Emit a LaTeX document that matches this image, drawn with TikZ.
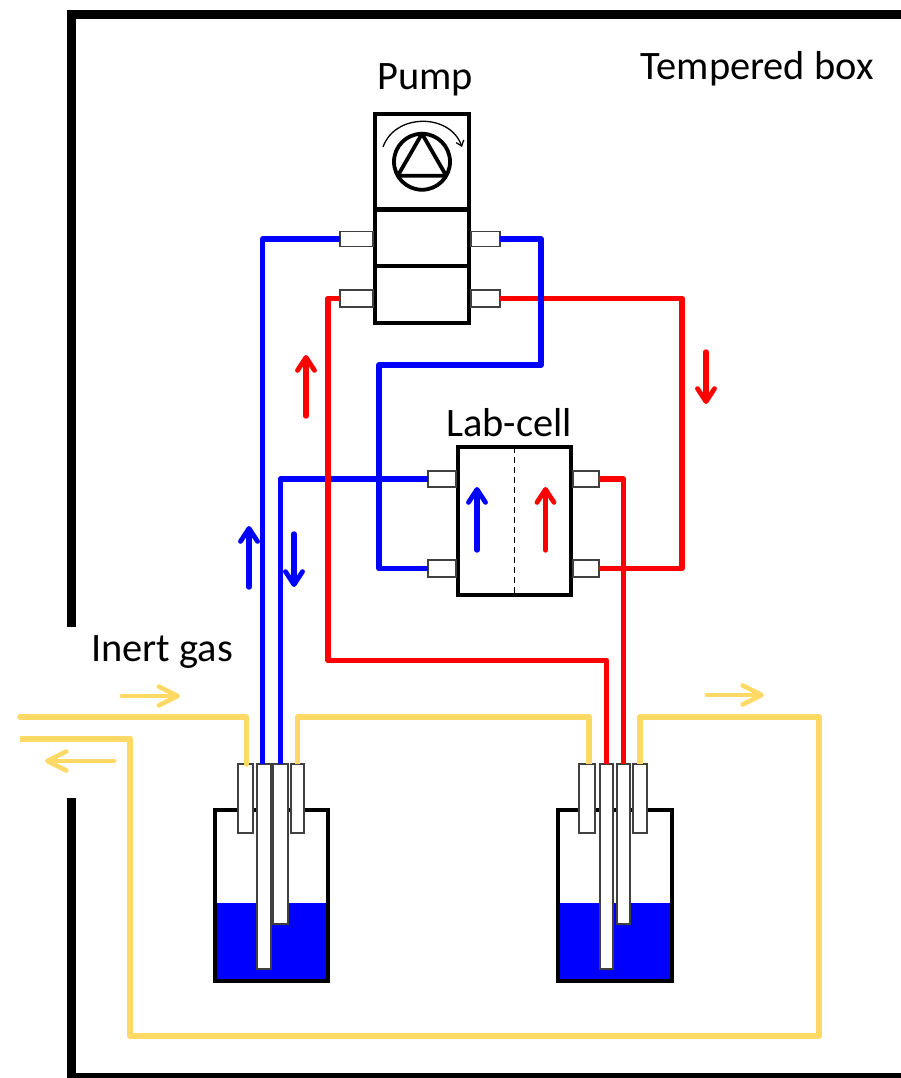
\documentclass[tikz,border=0pt]{standalone}
\usepackage{fontspec}
\setmainfont{Carlito}
\usetikzlibrary{arrows.meta,positioning}
\definecolor{gas}{HTML}{FFD966}
\tikzset{
box/.style={draw, line width=4.3pt, inner sep=0pt, outer sep=0pt}, % pump and lab-cell parts
port/.style={draw=black!75, fill=white, line width=1.3pt, inner sep=0pt, outer sep=0pt},
tube/.style={port, anchor=north, minimum height=69pt},
liquid/.style={fill=blue, inner sep=0pt, outer sep=0pt, minimum width=112pt, minimum height=78pt},
pipe/.style={line width=5.6pt, line join=round},
wall/.style={line width=9pt, line join=miter},
flow/.style={line width=5.4pt, line cap=round, -{Straight Barb[round,length=13pt,width=17pt,line width=4.8pt]}},
gasflow/.style={gas, line width=4.6pt, line cap=round, -{Straight Barb[round,length=19pt,width=19pt,line width=4.6pt]}},
title/.style={font=\fontsize{40.4}{46}\selectfont, inner sep=0pt},
}

\begin{document}
\begin{tikzpicture}[x=1pt,y=-1pt]
   \useasboundingbox (0,0) rectangle (901,1078);
   % box walls
   \coordinate (wall_a) at (71,627);
   \coordinate (wall_b) at (901,14.5);
   \coordinate (wall_c) at (71,798);
   \coordinate (wall_d) at (901,1077);
   \draw[wall] (wall_a) |- (wall_b);
   \draw[wall] (wall_c) |- (wall_d);
   % pump
   \node[box, minimum width=94pt, minimum height=95.5pt] (pump_0) at (422,161.75) {};
   \node[box, minimum width=94pt, minimum height=56.5pt] (pump_1) [below=0pt of pump_0] {};
   \node[box, minimum width=94pt, minimum height=56.7pt] (pump_2) [below=0pt of pump_1] {};
   \node[draw, circle, line width=3.8pt, minimum size=56pt, inner sep=0pt, outer sep=0pt] (pump_icon) at (pump_0) {};
   \draw[line width=3.8pt, line join=round] (pump_icon.90) -- (pump_icon.210) -- (pump_icon.330) -- cycle;
   \coordinate (turn_a) at (383,147);
   \coordinate (turn_b) at (462,147);
   \draw[line width=1.3pt, -{Straight Barb[length=5pt,width=8pt]}] (turn_a) .. controls (395,113) and (450,113) .. (turn_b);
   \node[port, minimum width=33pt, minimum height=15pt] (pump_1_w) [left=2pt of pump_1, yshift=-1.5pt] {};
   \node[port, minimum width=29pt, minimum height=15pt] (pump_1_e) [right=2pt of pump_1, yshift=-1.5pt] {};
   \node[port, minimum width=33pt, minimum height=17pt] (pump_2_w) [left=2pt of pump_2, yshift=-4pt] {};
   \node[port, minimum width=29pt, minimum height=17pt] (pump_2_e) [right=2pt of pump_2, yshift=-4pt] {};
   % lab-cell
   \node[box, minimum width=113pt, minimum height=148pt] (lab_cell) at (514.5,521) {};
   \draw[dashed, line width=1.2pt, dash pattern=on 6pt off 4pt] (lab_cell.north) -- (lab_cell.south);
   \node[port, minimum width=28pt, minimum height=16pt] (lab_nw) [left=2pt of lab_cell, yshift=42pt] {};
   \node[port, minimum width=26pt, minimum height=16pt] (lab_ne) [right=2pt of lab_cell, yshift=42pt] {};
   \node[port, minimum width=28pt, minimum height=17pt] (lab_sw) [left=2pt of lab_cell, yshift=-47.5pt] {};
   \node[port, minimum width=26pt, minimum height=17pt] (lab_se) [right=2pt of lab_cell, yshift=-47.5pt] {};
   % bottles
   \node[liquid] (liquid_a) at (271.5,942) {};
   \node[liquid] (liquid_b) at (615,942) {};
   \node[box, minimum width=113pt, minimum height=171pt] (bottle_a) at (271.5,895.5) {};
   \node[box, minimum width=114pt, minimum height=171pt] (bottle_b) at (615,895.5) {};
   \node[tube, minimum width=15pt] (tube_a1) at (245.5,764) {};
   \node[tube, minimum width=14pt, minimum height=205pt] (tube_a2) at (264,764) {};
   \node[tube, minimum width=15pt, minimum height=160pt] (tube_a3) at (280.5,764) {};
   \node[tube, minimum width=13pt] (tube_a4) at (297.5,764) {};
   \node[tube, minimum width=16pt] (tube_b1) at (587,764) {};
   \node[tube, minimum width=13pt, minimum height=205pt] (tube_b2) at (606.5,764) {};
   \node[tube, minimum width=13pt, minimum height=160pt] (tube_b3) at (623.5,764) {};
   \node[tube, minimum width=14pt] (tube_b4) at (640,764) {};
   % pipes
   \coordinate (blue_a) at (541,365);
   \coordinate (blue_b) at (379,568.5);
   \coordinate (red_a) at (328,660.5);
   \coordinate (red_b) at (682,568.5);
   \draw[pipe, blue] (pump_1_w.west) -| ([xshift=-1.5pt]tube_a2.north);
   \draw[pipe, blue] (lab_nw.west) -| (tube_a3.north);
   \draw[pipe, red] (pump_2_w.west) -| (red_a) -| (tube_b2.north);
   \draw[pipe, red] (pump_2_e.east) -| (red_b) -- (lab_se.east);
   \draw[pipe, red] (lab_ne.east) -| (tube_b3.north);
   \draw[pipe, blue] (pump_1_e.east) -| (blue_a) -| (blue_b) -- (lab_sw.west);
   % inert gas lines
   \coordinate (gas_in) at (20,717);
   \coordinate (gas_a) at (400,717);
   \coordinate (gas_b) at (819,717);
   \coordinate (gas_c) at (130,1036);
   \coordinate (gas_out) at (20,739);
   \draw[pipe, gas, line cap=round] (gas_in) -| ([xshift=1pt]tube_a1.north);
   \draw[pipe, gas] (tube_a4.north) |- (gas_a) -| ([xshift=2pt]tube_b1.north);
   \draw[pipe, gas] (tube_b4.north) |- (gas_b) |- (gas_c) |- (gas_out);
   % flow directions
   \coordinate (flow_1) at (306,416);
   \coordinate (flow_2) at (706,352);
   \coordinate (flow_3) at (249,587);
   \coordinate (flow_4) at (294,534);
   \coordinate (flow_5) at (477,550);
   \coordinate (flow_6) at (545.5,550);
   \coordinate (flow_7) at (122,696);
   \coordinate (flow_8) at (114,761);
   \coordinate (flow_9) at (707,695);
   \draw[flow, red] (flow_1) -- ++(0,-61);
   \draw[flow, red] (flow_2) -- ++(0,52);
   \draw[flow, blue] (flow_3) -- ++(0,-61);
   \draw[flow, blue] (flow_4) -- ++(0,53);
   \draw[flow, blue] (flow_5) -- ++(0,-63);
   \draw[flow, red] (flow_6) -- ++(0,-63);
   \draw[gasflow] (flow_7) -- ++(58,0);
   \draw[gasflow] (flow_8) -- ++(-69,0);
   \draw[gasflow] (flow_9) -- ++(57,0);
   % labels
   \node[title] (pump_text) at (425,80) {Pump};
   \node[title] (box_text) at (757,69) {Tempered box};
   \node[title] (lab_text) at (509,423) {Lab-cell};
   \node[title] (gas_text) at (162,652) {Inert gas};
\end{tikzpicture}
\end{document}
